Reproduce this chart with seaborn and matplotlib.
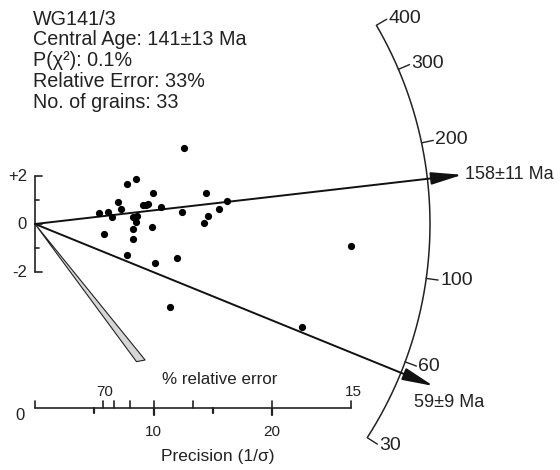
import numpy as np
import pandas as pd
import matplotlib
matplotlib.use("Agg")
import matplotlib.pyplot as plt
import seaborn as sns
from matplotlib.patches import Polygon

sns.set_theme(style="white")
plt.rcParams['font.family'] = ['Liberation Sans', 'DejaVu Sans']

# ---------------- data ----------------
sample_name = "WG141/3"
central_age = "141±13 Ma"
p_chi2 = "0.1%"
relative_error = "33%"
n_grains = 33

# grain precision (1/sigma) and standardised estimate
precision = [12.60, 8.50, 7.79, 9.93, 14.41, 7.00, 16.18, 7.28, 9.14, 9.56,
             10.61, 15.50, 5.43, 6.14, 6.50, 12.38, 8.30, 8.63, 8.50, 14.62,
             14.29, 9.85, 8.30, 5.82, 8.27, 26.64, 7.79, 11.96, 10.15, 11.39,
             22.51, 8.45, 9.35]
std_estimate = [3.15, 1.875, 1.67, 1.28, 1.28, 0.90, 0.96, 0.61, 0.79, 0.85,
                0.72, 0.61, 0.47, 0.51, 0.28, 0.51, 0.28, 0.33, 0.08, 0.33,
                0.05, -0.11, -0.22, -0.43, -0.64, -0.92, -1.30, -1.42, -1.64, -3.45,
                -4.28, 0.30, 0.80]

arc_ages = [400, 300, 200, 100, 60, 30]
peak_labels = ["158±11 Ma", "59±9 Ma"]
peak_arc_ages = [166.6, 55.4]          # where each component line meets the arc

y_ticks = [-2, -1, 0, 1, 2]
y_tick_labels = {2: "+2", 0: "0", -2: "-2"}

prec_major = [0, 10, 20]
prec_minor = [5, 15]
rel_err_ticks = [70, 60, 50, 40, 30, 20, 15]
rel_err_labels = [70, 15]

# ---------------- layout ----------------
W, H = 560, 470
OX, OY = 35.0, 224.0      # origin of radial plot in pixels (from top-left)
SX, SY = 11.85, 24.0      # pixels per unit (precision, standardised estimate)
R_ARC = 395.0             # arc radius in pixels

fig = plt.figure(figsize=(5.6, 4.7), dpi=100)
ax = fig.add_axes([0, 0, 1, 1])


def px(x, y):
    return (x - OX) / SX, (OY - y) / SY


def polar(theta, r):
    return r * np.cos(theta) / SX, r * np.sin(theta) / SY


def age_angle(t):
    s = 0.5757 * (np.log(np.asarray(t, float) + 20.0) - 5.029)
    return np.arctan(s)


# ---------------- points ----------------
df = pd.DataFrame({"precision": precision, "z": std_estimate})
sns.scatterplot(data=df, x="precision", y="z", ax=ax, color="black",
                s=27, edgecolor="black", linewidth=0, legend=False, zorder=5)
ax.set_xlim(-OX / SX, (W - OX) / SX)
ax.set_ylim((OY - H) / SY, OY / SY)
ax.axis('off')

# ---------------- arc ----------------
th = np.linspace(age_angle(min(arc_ages)), age_angle(max(arc_ages)), 300)
ax.plot(*polar(th, R_ARC), color="#222222", lw=1.1, solid_capstyle="butt")
for a in arc_ages:
    t = age_angle(a)
    p0 = polar(t, R_ARC)
    p1 = polar(t, R_ARC + 12)
    ax.plot([p0[0], p1[0]], [p0[1], p1[1]], color="#222222", lw=1.0)
    lx, ly = polar(t, R_ARC + 14)
    ax.text(lx, ly, str(a), ha="left", va="center", fontsize=14, color="#222222")

# ---------------- component lines ----------------
offsets = [(3, 0), (-19, 17)]
for lab, a, (dx, dy) in zip(peak_labels, peak_arc_ages, offsets):
    t = age_angle(a)
    tip = polar(t, 430)
    ax.annotate("", xy=tip, xytext=(0, 0),
                arrowprops=dict(arrowstyle="-|>,head_length=0.95,head_width=0.19",
                                mutation_scale=20, lw=1.4, color="#111111",
                                shrinkA=0, shrinkB=0))
    tx = tip[0] + dx / SX
    ty = tip[1] - dy / SY
    ax.text(tx, ty, lab, ha="left", va="center", fontsize=13, color="#222222")

# ---------------- error wedge ----------------
w1 = polar(np.deg2rad(-53.6), 171)
w2 = polar(np.deg2rad(-51.0), 175)
ax.add_patch(Polygon([(0, 0), w1, w2], closed=True, facecolor="#d6d6d6",
                     edgecolor="#222222", lw=0.8, zorder=3))

# ---------------- y (standardised) axis ----------------
ax.plot([0, 0], [-2, 2], color="#222222", lw=1.2)
for v in y_ticks:
    L = 7 if v % 2 == 0 else 4
    ax.plot([0, L / SX], [v, v], color="#222222", lw=1.2)
    if v in y_tick_labels:
        ax.text(-8 / SX, v, y_tick_labels[v], ha="right", va="center",
                fontsize=12, color="#222222")

# ---------------- precision / relative error axis ----------------
x_end = 400.0 / min(rel_err_ticks)
ya = px(0, 408)[1]
ax.plot([0, x_end], [ya, ya], color="#222222", lw=1.2)
up = 7.5 / SY
for r in rel_err_ticks:
    xp = 400.0 / r
    ax.plot([xp, xp], [ya, ya + up], color="#222222", lw=1.2)
    if r in rel_err_labels:
        ax.text(xp + 2 / SX, ya + 16 / SY, str(r), ha="center", va="center",
                fontsize=11, color="#222222")
ax.plot([0, 0], [ya, ya + up], color="#222222", lw=1.2)
for v in prec_major:
    if v == 0:
        continue
    ax.plot([v, v], [ya, ya - 7 / SY], color="#222222", lw=1.6)
    ax.text(v, ya - 24 / SY, str(v), ha="center", va="center",
            fontsize=11, color="#222222")
for v in prec_minor:
    ax.plot([v, v], [ya, ya - 4.5 / SY], color="#222222", lw=1.6)
ax.text(*px(20, 415), "0", ha="center", va="center", fontsize=12, color="#222222")
ax.text(*px(220, 380), "% relative error", ha="center", va="center",
        fontsize=12.2, color="#222222")
ax.text(*px(218, 457), "Precision (1/σ)", ha="center", va="center",
        fontsize=12.5, color="#222222")

# ---------------- header text ----------------
header = [sample_name,
          f"Central Age: {central_age}",
          f"P(χ²): {p_chi2}",
          f"Relative Error: {relative_error}",
          f"No. of grains: {n_grains}"]
for i, line in enumerate(header):
    ax.text(*px(33, 19 + 20.8 * i), line, ha="left", va="center",
            fontsize=14.2, color="#222222")

fig.savefig("out.png", dpi=100, facecolor="white")
